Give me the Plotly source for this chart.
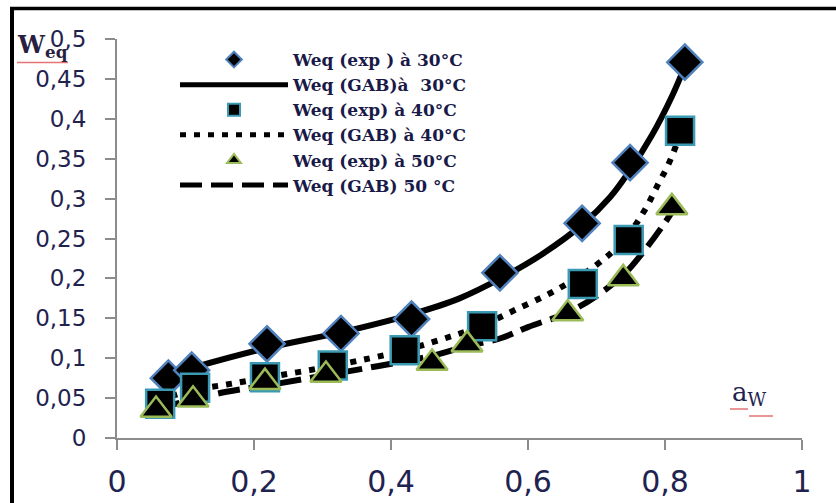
import plotly.graph_objects as go

# ---- data ----
aw_exp30 = [0.075, 0.109, 0.219, 0.327, 0.430, 0.559, 0.679, 0.749, 0.829]
weq_exp30 = [0.075, 0.085, 0.118, 0.131, 0.149, 0.207, 0.269, 0.345, 0.471]

aw_exp40 = [0.063, 0.114, 0.216, 0.315, 0.420, 0.533, 0.680, 0.747, 0.822]
weq_exp40 = [0.043, 0.063, 0.076, 0.091, 0.110, 0.140, 0.193, 0.248, 0.385]

aw_exp50 = [0.057, 0.111, 0.216, 0.305, 0.460, 0.511, 0.658, 0.739, 0.810]
weq_exp50 = [0.035, 0.048, 0.070, 0.079, 0.094, 0.117, 0.156, 0.200, 0.289]

aw_gab30 = [0.075, 0.11, 0.22, 0.33, 0.43, 0.50, 0.56, 0.62, 0.68, 0.72, 0.75, 0.78, 0.81, 0.83]
weq_gab30 = [0.079, 0.088, 0.113, 0.133, 0.155, 0.175, 0.200, 0.230, 0.268, 0.302, 0.337, 0.378, 0.428, 0.468]

aw_gab40 = [0.06, 0.11, 0.16, 0.22, 0.30, 0.37, 0.42, 0.49, 0.53, 0.58, 0.64, 0.70, 0.74, 0.77, 0.79, 0.805, 0.82]
weq_gab40 = [0.047, 0.060, 0.067, 0.076, 0.088, 0.100, 0.110, 0.128, 0.140, 0.160, 0.185, 0.217, 0.248, 0.285, 0.318, 0.343, 0.375]

aw_gab50 = [0.06, 0.11, 0.16, 0.22, 0.30, 0.38, 0.46, 0.51, 0.56, 0.60, 0.66, 0.70, 0.74, 0.77, 0.80, 0.815]
weq_gab50 = [0.037, 0.048, 0.058, 0.066, 0.078, 0.090, 0.103, 0.115, 0.125, 0.139, 0.158, 0.178, 0.205, 0.235, 0.270, 0.290]

names = ["Weq (exp ) à 30°C", "Weq (GAB)à  30°C", "Weq (exp) à 40°C",
         "Weq (GAB) à 40°C", "Weq (exp) à 50°C", "Weq (GAB) 50 °C"]

x_ticks = [0, 0.2, 0.4, 0.6, 0.8, 1]
y_ticks = [0, 0.05, 0.1, 0.15, 0.2, 0.25, 0.3, 0.35, 0.4, 0.45, 0.5]

fig = go.Figure()

# lines first (drawn beneath markers), legend order set by legendrank
fig.add_trace(go.Scatter(x=aw_gab30, y=weq_gab30, mode="lines", name=names[1], legendrank=2,
                         line=dict(color="black", width=6, shape="spline")))
fig.add_trace(go.Scatter(x=aw_gab40, y=weq_gab40, mode="lines", name=names[3], legendrank=4,
                         line=dict(color="black", width=6, dash="6px,8px", shape="spline")))
fig.add_trace(go.Scatter(x=aw_gab50, y=weq_gab50, mode="lines", name=names[5], legendrank=6,
                         line=dict(color="black", width=6, dash="22px,9px", shape="spline")))

fig.add_trace(go.Scatter(x=aw_exp30, y=weq_exp30, mode="markers", name=names[0], legendrank=1,
                         marker=dict(symbol="diamond", size=27, color="black",
                                     line=dict(color="#4f81bd", width=2.5))))
fig.add_trace(go.Scatter(x=aw_exp40, y=weq_exp40, mode="markers", name=names[2], legendrank=3,
                         marker=dict(symbol="square", size=28, color="black",
                                     line=dict(color="#3a9ab3", width=2.5))))
fig.add_trace(go.Scatter(x=aw_exp50, y=weq_exp50, mode="markers", name=names[4], legendrank=5,
                         marker=dict(symbol="triangle-up", size=27, color="black",
                                     line=dict(color="#9bbb59", width=2.5))))

L, R, T, B = 117, 34, 39, 65
W, H = 836, 503
pw, ph = W - L - R, H - T - B

def px_x(p):
    return (p - L) / pw

def px_y(p):
    return (H - B - p) / ph

fig.update_layout(
    width=W, height=H,
    margin=dict(l=L, r=R, t=T, b=B, pad=0),
    paper_bgcolor="white", plot_bgcolor="white",
    separators=", ",
    showlegend=True,
    legend=dict(x=px_x(175), y=px_y(42), xanchor="left", yanchor="top",
                bgcolor="rgba(0,0,0,0)", borderwidth=0,
                itemwidth=108, itemsizing="constant", tracegroupgap=0,
                font=dict(family="DejaVu Serif", size=17, weight="bold", color="#1a1a48")),
    xaxis=dict(range=[0, 1], tickvals=x_ticks, showgrid=False, zeroline=False,
               automargin=False,
               showline=True, linecolor="#8c8c8c", linewidth=2,
               ticks="outside", ticklen=10, tickwidth=2, tickcolor="#8c8c8c",
               ticklabelstandoff=6,
               tickfont=dict(family="DejaVu Sans", size=30, color="#1f2350")),
    yaxis=dict(range=[0, 0.5], tickvals=y_ticks, showgrid=False, zeroline=False,
               automargin=False,
               showline=True, linecolor="#8c8c8c", linewidth=2,
               ticks="outside", ticklen=10, tickwidth=2, tickcolor="#8c8c8c",
               ticklabelstandoff=14,
               tickfont=dict(family="DejaVu Sans", size=23, color="#1f2350")),
)

# axis titles
fig.add_annotation(xref="paper", yref="paper", x=px_x(15), y=px_y(64), xanchor="left", yanchor="bottom",
                   text="<b>W</b><sub><b>eq</b></sub>", showarrow=False,
                   font=dict(family="DejaVu Serif", size=24, color="#2a1f40"))
fig.add_annotation(xref="paper", yref="paper", x=px_x(730), y=px_y(412), xanchor="left", yanchor="bottom",
                   text="a<sub>W</sub>", showarrow=False,
                   font=dict(family="DejaVu Serif", size=26, color="#1f2350"))

# frame and spell-check underlines
shapes = [
    dict(type="line", xref="paper", yref="paper", x0=px_x(12), x1=px_x(12), y0=px_y(510), y1=px_y(7),
         line=dict(color="black", width=4)),
    dict(type="line", xref="paper", yref="paper", x0=px_x(10), x1=px_x(850), y0=px_y(8.5), y1=px_y(8.5),
         line=dict(color="black", width=3.5)),
    dict(type="line", xref="paper", yref="paper", x0=px_x(17), x1=px_x(68), y0=px_y(62.5), y1=px_y(62.5),
         line=dict(color="#e57373", width=1.5)),
    dict(type="line", xref="paper", yref="paper", x0=px_x(730), x1=px_x(748), y0=px_y(409), y1=px_y(409),
         line=dict(color="#e57373", width=1.5)),
    dict(type="line", xref="paper", yref="paper", x0=px_x(749), x1=px_x(773), y0=px_y(416), y1=px_y(416),
         line=dict(color="#e57373", width=1.5)),
]
fig.update_layout(shapes=shapes)

fig.write_html("out.html")
